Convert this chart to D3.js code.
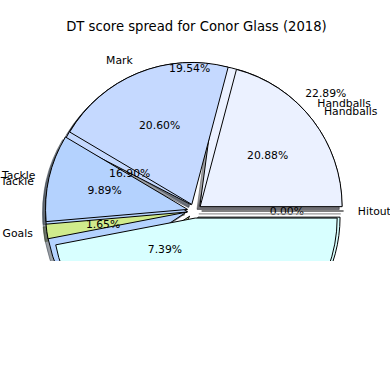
<!DOCTYPE html>
<html><head><meta charset="utf-8">
<script src="https://cdn.jsdelivr.net/npm/d3@7"></script>
<style>body{margin:0;background:#fff}svg{display:block}text{font-family:"DejaVu Sans",sans-serif}</style>
</head><body>
<svg id="c" width="390" height="390"></svg>
<script>
// current season (front pie)
const categories = ["Handballs", "Mark", "Tackle", "Goals", "Kicks", "Hitout"];
const shares = [20.88, 20.60, 9.89, 1.65, 46.98, 0.00];
const colors = ["#ebf1ff", "#c5d9ff", "#b4d2fe", "#d0eb8c", "#d8ffff", "#e0e0e0"];

// overlapping second pie (behind)
const backCategories = ["Handballs", "Mark", "Tackle", "Goals", "Kicks"];
const backShares = [22.89, 19.54, 16.90, 7.39, 33.28];
const backColors = ["#ebf1ff", "#c5d9ff", "#b4d2fe", "#d0eb8c", "#d8ffff"];
const backLabelShown = [true, false, false, false, false];
const backPctShown = [true, true, true, true, false];

// stray duplicate label
const ghostLabels = ["Tackle"];
const ghostMidShare = [47.1]; // cumulative percent at label middle

const title = "DT score spread for Conor Glass (2018)";

const W = 390, H = 390;
const cx = 194.5, cy = 211, R = 142;
const explode = 0.05 * R, shadowOff = 0.02 * R;
const pctBackOffset = [47, -44], pctBackR = 112;

const svg = d3.select("#c");
svg.append("defs").append("clipPath").attr("id", "clip")
  .append("rect").attr("x", 0).attr("y", 0).attr("width", W).attr("height", 261);

svg.append("text").attr("x", 196.5).attr("y", 31).attr("text-anchor", "middle")
  .attr("font-size", 13.2).text(title);

const g = svg.append("g").attr("clip-path", "url(#clip)")
  .append("g").attr("transform", `translate(${cx},${cy})`);

const pie = d3.pie().sort(null).value(d => d)
  .startAngle(Math.PI / 2).endAngle(Math.PI / 2 - 2 * Math.PI);
const arc = d3.arc().innerRadius(0).outerRadius(R);
const mid = d => (d.startAngle + d.endAngle) / 2;
const off = (d, r) => [r * Math.sin(mid(d)), -r * Math.cos(mid(d))];
const shade = c => { const k = d3.rgb(c); return d3.rgb(k.r * 0.3, k.g * 0.3, k.b * 0.3).toString(); };

const backArcs = pie(backShares);
const frontArcs = pie(shares);
const frontDrawn = frontArcs.filter(d => d.data > 0);
const frontCols = colors.filter((c, i) => shares[i] > 0);

function drawShadows(arcs, cols, layer) {
  layer.selectAll("path").data(arcs).join("path")
    .attr("d", arc)
    .attr("transform", d => { const o = off(d, explode); return `translate(${o[0] - shadowOff},${o[1] + shadowOff})`; })
    .attr("fill", (d, i) => shade(cols[i])).attr("fill-opacity", 0.5)
    .attr("stroke", (d, i) => shade(cols[i])).attr("stroke-opacity", 0.5).attr("stroke-width", 1);
}
function drawWedges(arcs, cols, layer) {
  layer.selectAll("path").data(arcs).join("path")
    .attr("d", arc)
    .attr("transform", d => { const o = off(d, explode); return `translate(${o[0]},${o[1]})`; })
    .attr("fill", (d, i) => cols[i])
    .attr("stroke", "#000").attr("stroke-width", 1).attr("stroke-linejoin", "miter");
}

drawShadows(backArcs, backColors, g.append("g"));
drawShadows(frontDrawn, frontCols, g.append("g"));
drawWedges(backArcs, backColors, g.append("g"));
drawWedges(frontDrawn, frontCols, g.append("g"));

const fmt = d3.format(".2f");
const texts = g.append("g").attr("font-size", 10.8).attr("fill", "#000");

function label(x, y, txt) {
  texts.append("text").attr("x", x).attr("y", y).attr("dy", "0.36em")
    .attr("text-anchor", x > 0 ? "start" : "end").text(txt);
}
// front labels and percentages
frontArcs.forEach((d, i) => {
  const o = off(d, explode), l = off(d, 1.1 * R), p = off(d, 0.6 * R);
  label(o[0] + l[0], o[1] + l[1], categories[i]);
  texts.append("text").attr("x", o[0] + p[0]).attr("y", o[1] + p[1]).attr("dy", "0.36em")
    .attr("text-anchor", "middle").text(fmt(shares[i]) + "%");
});
// back labels
backArcs.forEach((d, i) => {
  if (!backLabelShown[i]) return;
  const o = off(d, explode), l = off(d, 1.1 * R);
  label(o[0] + l[0], o[1] + l[1], backCategories[i]);
});
// back percentages (offset layout)
backArcs.forEach((d, i) => {
  if (!backPctShown[i]) return;
  const p = off(d, pctBackR);
  texts.append("text").attr("x", pctBackOffset[0] + p[0]).attr("y", pctBackOffset[1] + p[1]).attr("dy", "0.36em")
    .attr("text-anchor", "middle").text(fmt(backShares[i]) + "%");
});
// ghost labels
ghostLabels.forEach((t, i) => {
  const a = Math.PI / 2 - 2 * Math.PI * ghostMidShare[i] / 100;
  const r = 1.15 * R;
  label(r * Math.sin(a), -r * Math.cos(a), t);
});

// zero-size wedges drawn on top (lines)
const zeroArcs = frontArcs.filter(d => d.data === 0);
const zg = g.append("g");
zg.selectAll("path.s").data(zeroArcs).join("path").attr("class", "s")
  .attr("d", arc)
  .attr("transform", d => { const o = off(d, explode); return `translate(${o[0] - shadowOff},${o[1] + shadowOff})`; })
  .attr("fill", "none").attr("stroke", "#999").attr("stroke-width", 1.2);
zg.selectAll("path.w").data(zeroArcs).join("path").attr("class", "w")
  .attr("d", arc)
  .attr("transform", d => { const o = off(d, explode); return `translate(${o[0]},${o[1]})`; })
  .attr("fill", "none").attr("stroke", "#000").attr("stroke-width", 1.2);
</script>
</body></html>
